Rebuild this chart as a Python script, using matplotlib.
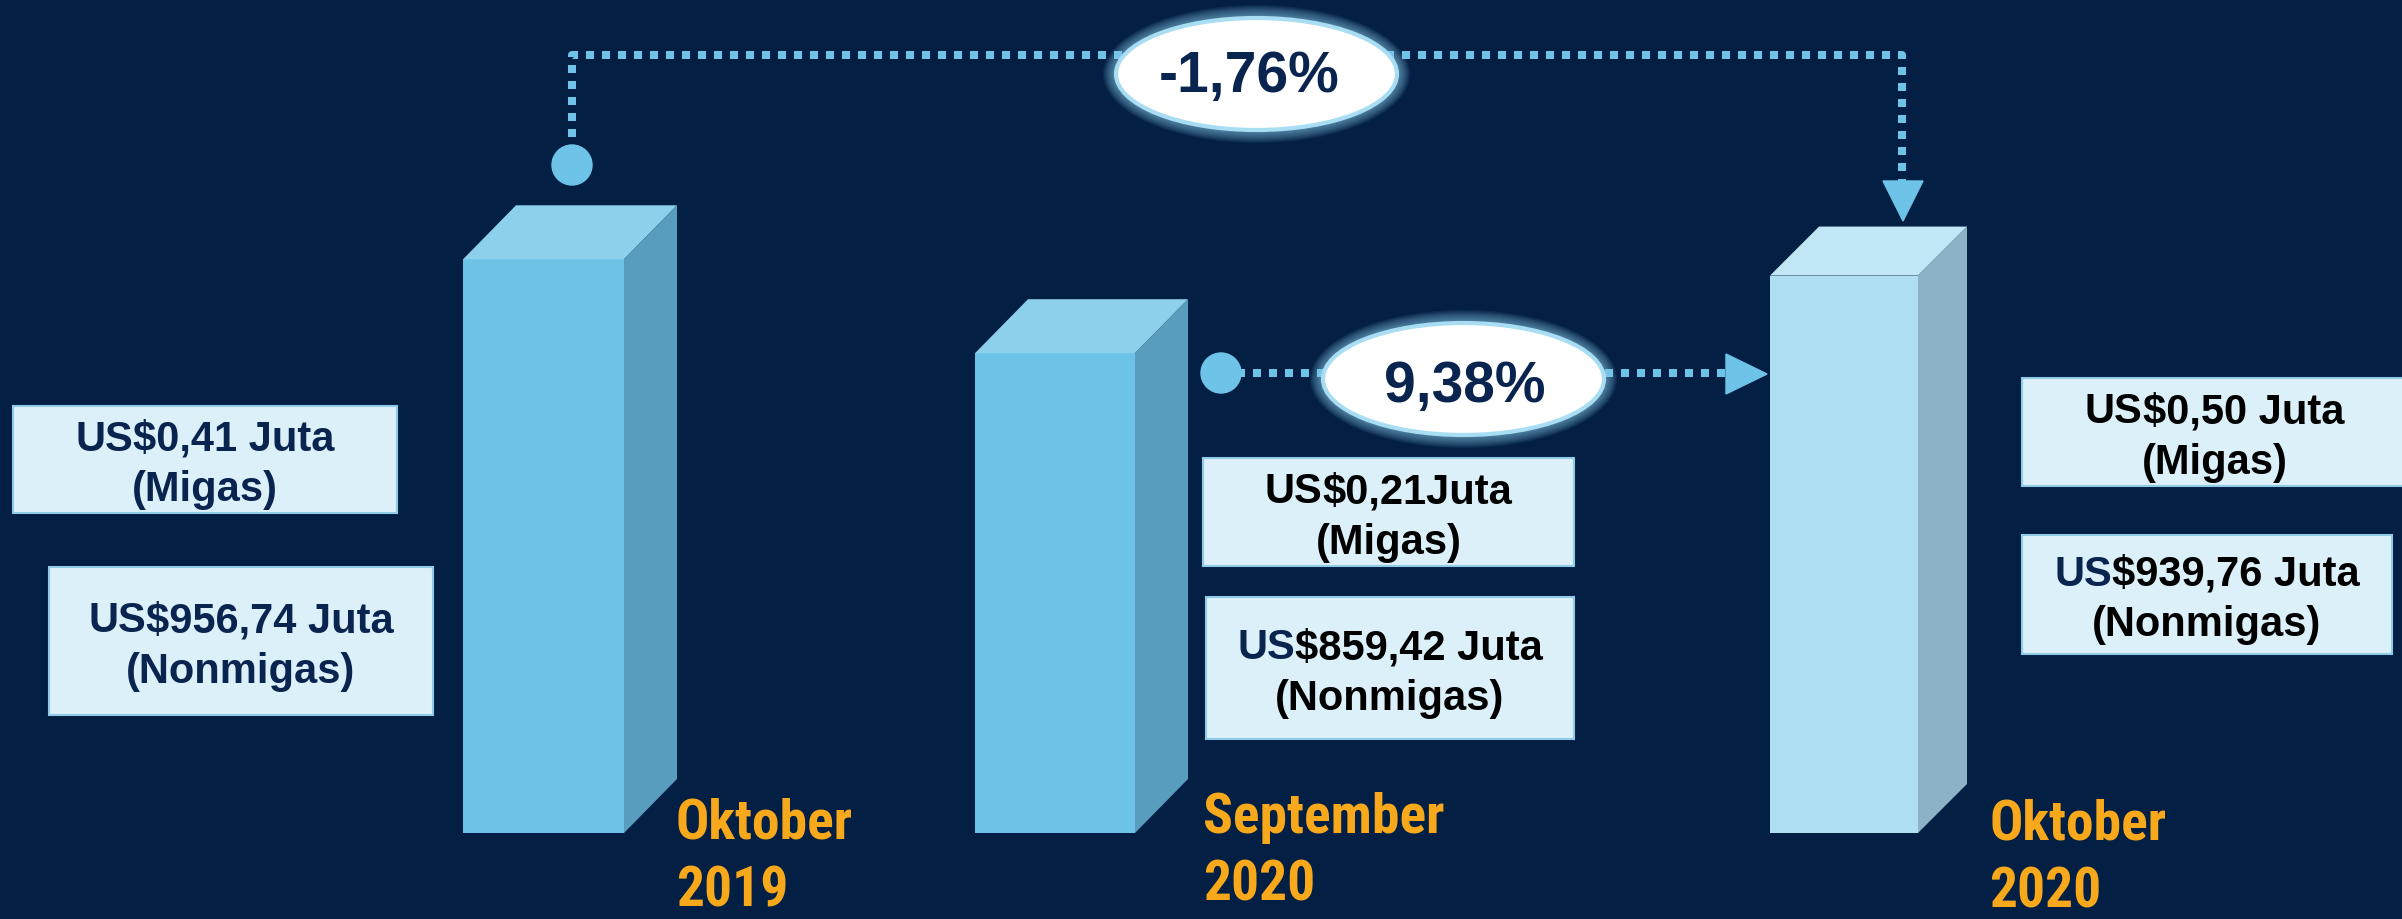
import matplotlib
matplotlib.use("Agg")
import matplotlib.pyplot as plt
from matplotlib.patches import Polygon, Ellipse, Rectangle, Circle
from matplotlib import font_manager

# --- data ---
periods = ["Oktober 2019", "September 2020", "Oktober 2020"]
migas = [0.41, 0.21, 0.50]
nonmigas = [956.74, 859.42, 939.76]
migas_labels = ["US$0,41 Juta", "US$0,21Juta", "US$0,50 Juta"]
nonmigas_labels = ["US$956,74 Juta", "US$859,42 Juta", "US$939,76 Juta"]

totals = [m + n for m, n in zip(migas, nonmigas)]
yoy = (totals[2] / totals[0] - 1) * 100
mtm = (totals[2] / totals[1] - 1) * 100
changes = [f"{yoy:.2f}%".replace(".", ","), f"{mtm:.2f}%".replace(".", ",")]

# --- layout / style (pixels of a 2402x920 canvas) ---
BG = "#031f44"
NAVY = "#0a2450"
ORANGE = "#f7a81b"
LINE_C = "#6ec4e8"
BOX_FACE = "#dcf0f9"
BOX_EDGE = "#8fcbe6"
FRONT = ["#6cc3e7", "#6cc3e7", "#addef1"]
TOP = ["#8dd0ec", "#8dd0ec", "#c1e6f5"]
SIDE = ["#589dbd", "#589dbd", "#8db2c5"]

BAR_X = [543.5, 1055, 1844]
BAR_W = [161, 160, 148]
DEPTH = [(53, 54), (53, 54), (49, 49)]
BASE = 361.4          # value at the floor of the boxes
PX_PER_VAL = 0.963
BASE_PX = 834

LABEL_X = [676, 1203, 1989]
LABEL_BASE = [839, 833, 840]

MIGAS_BOX = [(13, 407, 384, 107), (1203, 459, 371, 108), (2022, 379, 385, 108)]
NONMIGAS_BOX = [(49, 568, 384, 148), (1206, 598, 368, 142), (2022, 536, 370, 119)]
MIGAS_COL = [(NAVY, NAVY), ("black", "black"), ("black", "black")]
NONMIGAS_COL = [(NAVY, NAVY), (NAVY, "black"), (NAVY, "black")]

PCT_CENTER = [(1256.5, 75), (1463.5, 380)]
PCT_TEXT = [(1249, 92), (1465, 402)]

BOLD = ["Liberation Sans", "DejaVu Sans"]

# look for a narrow face for the period labels, else fall back to Liberation Sans
installed = {f.name for f in font_manager.fontManager.ttflist}
NARROW = [n for n in ["Liberation Sans Narrow", "Arial Narrow", "Noto Sans Condensed",
                      "Roboto Condensed", "Open Sans Condensed", "DejaVu Sans Condensed"]
          if n in installed][:1] + ["Liberation Sans"]
label_size = 40 if NARROW[0] != "Liberation Sans" else 36

fig = plt.figure(figsize=(24.02, 9.2), dpi=100)
fig.patch.set_facecolor(BG)

# axes for the bars: x in canvas pixels, y in value units
ax = fig.add_axes([0, 0, 1, 1])
ax.axis("off")
ax.set_xlim(0, 2402)
ylo = BASE - (920 - BASE_PX) / PX_PER_VAL
ax.set_ylim(ylo, ylo + 920 / PX_PER_VAL)

# overlay axes for annotations, 1 unit = 1 pixel, y downward
ov = fig.add_axes([0, 0, 1, 1])
ov.axis("off")
ov.set_xlim(0, 2402)
ov.set_ylim(920, 0)

# 3d boxes
ax.bar(BAR_X, [t - BASE for t in totals], bottom=BASE, width=BAR_W,
       color=FRONT, linewidth=0, zorder=2)
for i, v in enumerate(totals):
    x0 = BAR_X[i] - BAR_W[i] / 2
    x1 = x0 + BAR_W[i]
    dx, dy = DEPTH[i]
    dyv = dy / PX_PER_VAL
    ax.add_patch(Polygon([(x0, v), (x1, v), (x1 + dx, v + dyv), (x0 + dx, v + dyv)],
                         closed=True, fc=TOP[i], ec="none", zorder=2))
    ax.add_patch(Polygon([(x1, BASE), (x1, v), (x1 + dx, v + dyv), (x1 + dx, BASE + dyv)],
                         closed=True, fc=SIDE[i], ec="none", zorder=2))

# period labels
for i, p in enumerate(periods):
    month, year = p.split(" ")
    ov.text(LABEL_X[i], LABEL_BASE[i], month, color=ORANGE, fontsize=label_size,
            fontweight="bold", family=NARROW, ha="left", va="baseline")
    ov.text(LABEL_X[i], LABEL_BASE[i] + 68, year, color=ORANGE, fontsize=label_size,
            fontweight="bold", family=NARROW, ha="left", va="baseline")

renderer = fig.canvas.get_renderer()


def line_parts(cx, y, parts, size=30):
    texts = [ov.text(0, y, s, color=c, fontsize=size, fontweight="bold",
                     family=BOLD, ha="left", va="baseline", zorder=5) for s, c in parts]
    widths = [t.get_window_extent(renderer).width for t in texts]
    x = cx - sum(widths) / 2
    for t, w in zip(texts, widths):
        t.set_x(x)
        x += w


def value_box(box, line1, line2, cols):
    x, y, w, h = box
    ov.add_patch(Rectangle((x, y), w, h, fc=BOX_FACE, ec=BOX_EDGE, lw=1.5, zorder=4))
    cx, cy = x + w / 2, y + h / 2
    line_parts(cx, cy - 9.5, [(line1[:2], cols[0]), (line1[2:], cols[1])])
    line_parts(cx, cy + 41, [(line2, cols[1])])


for i in range(3):
    value_box(MIGAS_BOX[i], migas_labels[i], "(Migas)", MIGAS_COL[i])
    value_box(NONMIGAS_BOX[i], nonmigas_labels[i], "(Nonmigas)", NONMIGAS_COL[i])

# connectors
dots = dict(color=LINE_C, lw=5.76, ls=(0, (1, 1)), dash_capstyle="butt", zorder=3)
ov.plot([572, 572, 1902, 1902], [186, 56, 56, 182], **dots)
ov.add_patch(Circle((572, 166), 20, color=LINE_C, zorder=3))
ov.add_patch(Polygon([(1883, 182), (1923, 182), (1903, 222)], color=LINE_C, zorder=3))

ov.plot([1221, 1726], [374, 374], **dots)
ov.add_patch(Circle((1221, 374), 20, color=LINE_C, zorder=3))
ov.add_patch(Polygon([(1726, 355), (1726, 395), (1767, 375)], color=LINE_C, zorder=3))

# percentage bubbles with a soft glow
for (cx, cy), (tx, ty), s in zip(PCT_CENTER, PCT_TEXT, changes):
    for k in range(10, 0, -1):
        ov.add_patch(Ellipse((cx, cy), 285 + 2.2 * k, 116 + 2.2 * k, fc="#8fd3f0",
                             ec="none", alpha=0.07, zorder=4))
    ov.add_patch(Ellipse((cx, cy), 281, 112, fc="white", ec="#a8ddf3", lw=3, zorder=4))
    ov.text(tx, ty, s, color=NAVY, fontsize=41, fontweight="bold", family=BOLD,
            ha="center", va="baseline", zorder=5)

fig.savefig("out.png", dpi=100, facecolor=BG)
